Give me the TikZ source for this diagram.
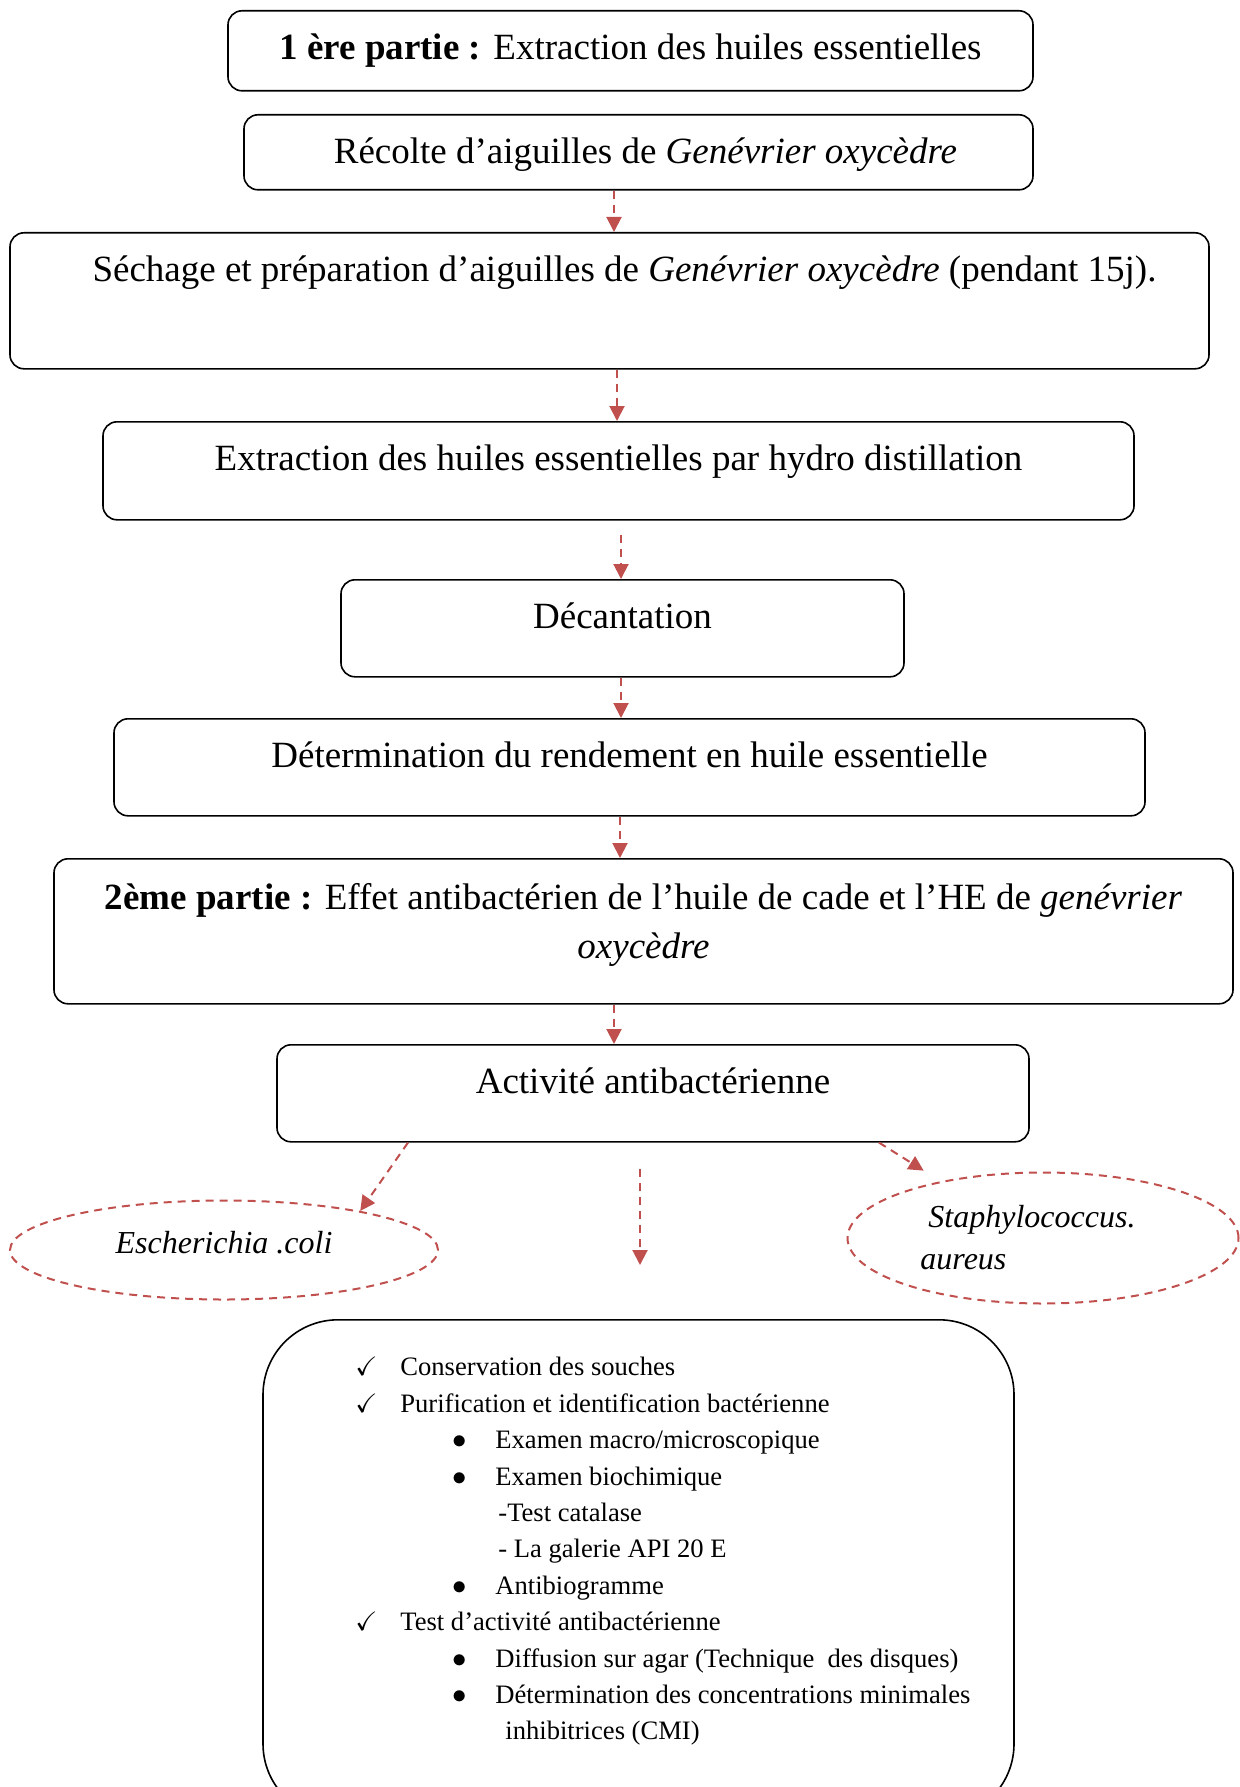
\documentclass[tikz,border=0pt]{standalone}
\usepackage{amssymb}
\usepackage{fontspec}
\setmainfont{Liberation Serif}
\usetikzlibrary{arrows.meta, shapes.geometric}
\definecolor{rouge}{HTML}{C0504D}

\newcommand{\coche}{\makebox[22.5pt][l]{$\checkmark$}}
\newcommand{\puce}{\hspace*{48.5pt}\makebox[21.5pt][l]{$\bullet$}}

\begin{document}
\begin{tikzpicture}[x=0.5pt, y=-0.5pt,
  etape/.style={draw, rounded corners=7pt, line width=0.8pt, anchor=north,
    inner xsep=6pt, inner ysep=0pt, text height=24.5pt,
    font=\fontsize{18.5}{24.5}\selectfont},
  souche/.style={draw=rouge, ellipse, line width=1pt, dash pattern=on 4pt off 3pt,
    inner sep=0pt, font=\fontsize{16}{21}\selectfont},
  fleche/.style={draw=rouge, line width=1pt, dash pattern=on 4pt off 3pt,
    -{Triangle[length=7.5pt, width=7.5pt]}},
  liste/.style={align=left, inner sep=0pt, font=\fontsize{13.3}{18.2}\selectfont}]

  \useasboundingbox (0,0) rectangle (1240,1787);

  % --- 1ere partie ---
  \node[etape, minimum width=402.5pt, text depth=15.5pt] (partie1) at (630.5,10)
    {\textbf{1 ère partie :} Extraction des huiles essentielles};
  \node[etape, minimum width=394.5pt, text depth=13pt] (recolte) at (638.5,114)
    {\hspace*{7pt}Récolte d’aiguilles de \textit{Genévrier oxycèdre}};
  \node[etape, minimum width=599.5pt, text depth=43.5pt] (sechage) at (609.5,232)
    {\hspace*{15pt}Séchage et préparation d’aiguilles de \textit{Genévrier oxycèdre} (pendant 15j).};
  \node[etape, minimum width=515.5pt, text depth=24.5pt] (extraction) at (618.5,421)
    {Extraction des huiles essentielles par hydro distillation};
  \node[etape, minimum width=281.5pt, text depth=24pt] (decantation) at (622.5,579)
    {Décantation};
  \node[etape, minimum width=515.5pt, text depth=24pt] (rendement) at (629.5,718)
    {Détermination du rendement en huile essentielle};

  % --- 2eme partie ---
  \node[etape, minimum width=589.5pt, text height=50pt, text depth=22.5pt, align=center]
    (partie2) at (643.5,858)
    {\textbf{2ème partie :} Effet antibactérien de l’huile de cade et l’HE de \textit{genévrier}\\
     \textit{oxycèdre}};
  \node[etape, minimum width=376pt, text depth=24pt] (activite) at (653,1044)
    {Activité antibactérienne};

  % souches
  \node[souche, minimum width=214pt, minimum height=49.5pt, text height=11pt, text depth=8pt]
    (ecoli) at (224,1250) {\textit{Escherichia .coli}};
  \node[souche, minimum width=195.5pt, minimum height=65.5pt, align=left] (staph) at (1043,1238)
    {\hspace*{4pt}\textit{Staphylococcus.}\hspace*{15pt}\\\textit{aureus}};

  % protocole
  \node[draw, rounded corners=37.5pt, line width=0.8pt, anchor=north,
        minimum width=375.5pt, minimum height=249.5pt] (protocole) at (638.5,1319) {};
  \node[liste, anchor=north west] (etapes) at (355,1357) {%
    \coche Conservation des souches\\
    \coche Purification et identification bactérienne\\
    \puce Examen macro/microscopique\\
    \puce Examen biochimique\\
    \hspace*{71.5pt}-Test catalase\\
    \hspace*{71.5pt}- La galerie API 20 E\\
    \puce Antibiogramme\\
    \coche Test d’activité antibactérienne\\
    \puce Diffusion sur agar (Technique\ \ des disques)\\
    \puce Détermination des concentrations minimales\\
    \hspace*{75pt}inhibitrices (CMI)};

  % --- fleches ---
  \draw[fleche] (recolte.south -| 614,0) -- (sechage.north -| 614,0);
  \draw[fleche] (sechage.south -| 617,0) -- (extraction.north -| 617,0);
  \draw[fleche, shorten <=7pt] (extraction.south -| 621,0) -- (decantation.north -| 621,0);
  \draw[fleche] (decantation.south -| 621,0) -- (rendement.north -| 621,0);
  \draw[fleche] (rendement.south -| 620,0) -- (partie2.north -| 620,0);
  \draw[fleche] (partie2.south -| 614,0) -- (activite.north -| 614,0);
  \draw[fleche] (activite.south -| 408,0) -- (ecoli.16);
  \draw[fleche, shorten >=10pt] (activite.south -| 879,0) -- (staph.151);
  \coordinate (milieu haut) at (640,1169);
  \coordinate (milieu bas) at (640,1265);
  \draw[fleche] (milieu haut) -- (milieu bas);

\end{tikzpicture}
\end{document}
